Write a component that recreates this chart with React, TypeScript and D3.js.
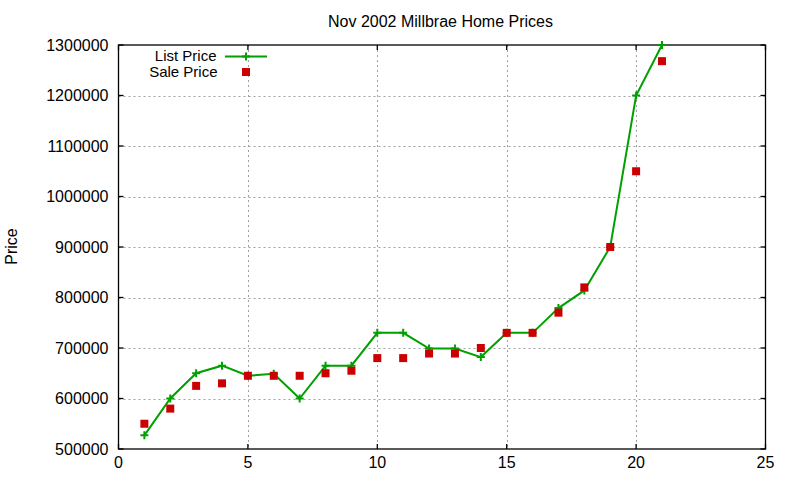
import { useEffect, useRef } from "react";
import * as d3 from "d3";

// house index (x), asking price and selling price
const houses = [1, 2, 3, 4, 5, 6, 7, 8, 9, 10, 11, 12, 13, 14, 15, 16, 17, 18, 19, 20, 21];
const listPrice = [
	527000, 600000, 650000, 665000, 645000, 649000, 600000, 665000, 665000, 730000, 730000,
	699000, 699000, 682000, 730000, 730000, 779000, 814000, 900000, 1200000, 1300000,
];
const salePrice = [
	550000, 580000, 625000, 630000, 645000, 645000, 645000, 650000, 655000, 680000, 680000,
	689000, 689000, 700000, 730000, 730000, 770000, 820000, 900000, 1050000, 1268000,
];
const xTicks = [0, 5, 10, 15, 20, 25];
const yTicks = [500000, 600000, 700000, 800000, 900000, 1000000, 1100000, 1200000, 1300000];

const GREEN = "#00a000";
const RED = "#cc0000";
const FONT = "'Liberation Sans', Arial, sans-serif";

const PriceChart = () => {
	const svgRef = useRef<SVGSVGElement>(null);

	useEffect(() => {
		if (!svgRef.current) return;

		const width = 800;
		const height = 480;
		const plot = { left: 118.5, right: 765.5, top: 45, bottom: 449 };
		const tickLen = 5;

		const svg = d3.select(svgRef.current).attr("width", width).attr("height", height);
		svg.selectAll("*").remove();

		const x = d3.scaleLinear().domain([0, 25]).range([plot.left, plot.right]);
		const y = d3.scaleLinear().domain([500000, 1300000]).range([plot.bottom, plot.top]);

		svg.append("rect").attr("width", width).attr("height", height).attr("fill", "#fff");

		// dotted grid
		const grid = svg.append("g").attr("stroke", "#a0a0a0").attr("stroke-width", 1).attr("stroke-dasharray", "2,3");
		grid.selectAll(".gx")
			.data(xTicks.slice(1, -1))
			.enter()
			.append("line")
			.attr("x1", (d) => Math.round(x(d)) + 0.5)
			.attr("x2", (d) => Math.round(x(d)) + 0.5)
			.attr("y1", plot.top)
			.attr("y2", plot.bottom);
		grid.selectAll(".gy")
			.data(yTicks.slice(1, -1))
			.enter()
			.append("line")
			.attr("y1", (d) => Math.round(y(d)) + 0.5)
			.attr("y2", (d) => Math.round(y(d)) + 0.5)
			.attr("x1", plot.left)
			.attr("x2", plot.right);

		// border + mirrored inward ticks
		const axes = svg.append("g").attr("stroke", "#000").attr("stroke-width", 1.3).attr("fill", "none");
		axes.append("rect")
			.attr("x", plot.left)
			.attr("y", plot.top)
			.attr("width", plot.right - plot.left)
			.attr("height", plot.bottom - plot.top);
		xTicks.forEach((t) => {
			axes.append("line").attr("x1", x(t)).attr("x2", x(t)).attr("y1", plot.bottom).attr("y2", plot.bottom - tickLen);
			axes.append("line").attr("x1", x(t)).attr("x2", x(t)).attr("y1", plot.top).attr("y2", plot.top + tickLen);
		});
		yTicks.forEach((t) => {
			axes.append("line").attr("y1", y(t)).attr("y2", y(t)).attr("x1", plot.left).attr("x2", plot.left + tickLen);
			axes.append("line").attr("y1", y(t)).attr("y2", y(t)).attr("x1", plot.right).attr("x2", plot.right - tickLen);
		});

		const text = svg.append("g").attr("font-family", FONT).attr("font-size", 16).attr("fill", "#000");
		text.selectAll(".xl")
			.data(xTicks)
			.enter()
			.append("text")
			.attr("x", (d) => x(d))
			.attr("y", 468)
			.attr("text-anchor", "middle")
			.text((d) => d);
		text.selectAll(".yl")
			.data(yTicks)
			.enter()
			.append("text")
			.attr("x", 108.5)
			.attr("y", (d) => y(d))
			.attr("dy", "0.35em")
			.attr("text-anchor", "end")
			.text((d) => d);

		text.append("text")
			.attr("x", 440.5)
			.attr("y", 27)
			.attr("text-anchor", "middle")
			.text("Nov 2002 Millbrae Home Prices");
		text.append("text")
			.attr("transform", "translate(17,246.5) rotate(-90)")
			.attr("text-anchor", "middle")
			.text("Price");

		// list price line with crosses
		const line = d3
			.line<number>()
			.x((_d, i) => x(houses[i]))
			.y((d) => y(d));
		svg.append("path")
			.attr("d", line(listPrice) || "")
			.attr("fill", "none")
			.attr("stroke", GREEN)
			.attr("stroke-width", 2);

		const cross = (g: d3.Selection<SVGGElement, unknown, null, undefined>, cx: number, cy: number) => {
			g.append("path")
				.attr("d", `M${cx - 4},${cy}H${cx + 4}M${cx},${cy - 4}V${cy + 4}`)
				.attr("stroke", GREEN)
				.attr("stroke-width", 2);
		};
		const marks = svg.append("g");
		listPrice.forEach((d, i) => cross(marks, x(houses[i]), y(d)));

		// sale price squares
		svg.append("g")
			.selectAll("rect")
			.data(salePrice)
			.enter()
			.append("rect")
			.attr("x", (_d, i) => x(houses[i]) - 4)
			.attr("y", (d) => y(d) - 4)
			.attr("width", 8)
			.attr("height", 8)
			.attr("fill", RED);

		// legend
		const legend = svg.append("g").attr("font-family", FONT).attr("font-size", 15).attr("fill", "#000");
		legend.append("text").attr("x", 216.5).attr("y", 60.5).attr("text-anchor", "end").text("List Price");
		legend.append("text").attr("x", 217.5).attr("y", 77).attr("text-anchor", "end").text("Sale Price");
		svg.append("line")
			.attr("x1", 225)
			.attr("x2", 267)
			.attr("y1", 56.5)
			.attr("y2", 56.5)
			.attr("stroke", GREEN)
			.attr("stroke-width", 2);
		cross(marks, 246, 56.5);
		svg.append("rect").attr("x", 242).attr("y", 68).attr("width", 8).attr("height", 8).attr("fill", RED);
	}, []);

	return <svg ref={svgRef} style={{ display: "block" }} />;
};

export default function App() {
	return (
		<div style={{ position: "fixed", left: 0, top: 0, background: "#fff" }}>
			<PriceChart />
		</div>
	);
}
